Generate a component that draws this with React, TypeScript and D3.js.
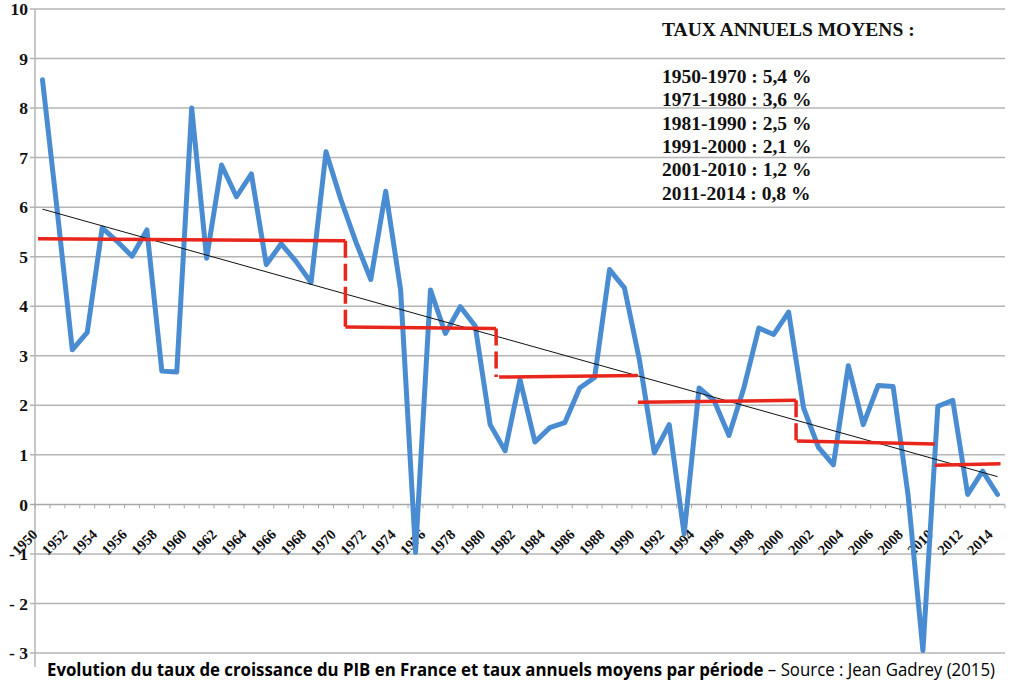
import * as d3 from "d3";

// ---------------------------------------------------------------------------
// Data
// ---------------------------------------------------------------------------

const YEARS = d3.range(1950, 2015);

const GROWTH = [
  8.57, 5.9, 3.12, 3.47, 5.58, 5.31, 5.01, 5.54, 2.69, 2.67,
  8.0, 4.97, 6.85, 6.21, 6.67, 4.84, 5.26, 4.9, 4.48, 7.12,
  6.15, 5.3, 4.54, 6.32, 4.33, -0.97, 4.33, 3.45, 3.99, 3.6,
  1.61, 1.08, 2.52, 1.26, 1.55, 1.65, 2.35, 2.56, 4.74, 4.37,
  2.92, 1.04, 1.61, -0.6, 2.35, 2.1, 1.39, 2.35, 3.56, 3.43,
  3.88, 1.95, 1.15, 0.8, 2.8, 1.61, 2.4, 2.38, 0.2, -2.95,
  1.98, 2.1, 0.2, 0.67, 0.2,
];

// period averages drawn by hand in the original (slightly tilted)
const PERIOD_FROM = [1949.7, 1970.3, 1980.6, 1989.9, 2000.55, 2009.8];
const PERIOD_TO = [1970.3, 1980.4, 1989.9, 2000.5, 2009.8, 2014.2];
const PERIOD_START_VAL = [5.36, 3.58, 2.57, 2.06, 1.28, 0.79];
const PERIOD_END_VAL = [5.32, 3.55, 2.6, 2.1, 1.22, 0.82];
// dashed drops between period i and i+1
const DROPS = [0, 1, 3];

// linear trend endpoints
const TREND_YEARS = [1950, 2014];
const TREND_VALS = [5.96, 0.56];

const Y_TICKS = [-3, -2, -1, 0, 1, 2, 3, 4, 5, 6, 7, 8, 9, 10];
const X_LABELS = YEARS.filter((y) => y % 2 === 0);

const LEGEND_TITLE = "TAUX ANNUELS MOYENS :";
const LEGEND_LINES = [
  "1950-1970 : 5,4 %",
  "1971-1980 : 3,6 %",
  "1981-1990 : 2,5 %",
  "1991-2000 : 2,1 %",
  "2001-2010 : 1,2 %",
  "2011-2014 : 0,8 %",
];

const CAPTION_BOLD =
  "Evolution du taux de croissance du PIB en France et taux annuels moyens par période";
const CAPTION_REG = " – Source : Jean Gadrey (2015)";

// ---------------------------------------------------------------------------
// Style
// ---------------------------------------------------------------------------

const W = 1017;
const H = 698;
const PLOT = { left: 35, right: 1005, top: 9, bottom: 653 };
const GRID = "#b5b5b5";
const BLUE = "#4a8cd2";
const RED = "#e8261c";
const SERIF = "'Liberation Serif','Times New Roman','DejaVu Serif',serif";
const SANS = "'Open Sans','Noto Sans',sans-serif";

export default function App() {
  const x = d3
    .scaleLinear()
    .domain([1949.5, 2014.5])
    .range([PLOT.left, PLOT.right]);
  const y = d3.scaleLinear().domain([-3, 10]).range([PLOT.bottom, PLOT.top]);

  const line = d3
    .line<number>()
    .x((_, i) => x(YEARS[i]))
    .y((d) => y(d));

  const y0 = y(0);
  const boundaries = d3.range(1949.5, 2015, 1);

  return (
    <svg
      width={W}
      height={H}
      style={{ position: "absolute", left: 0, top: 0, background: "white" }}
    >
      <rect width={W} height={H} fill="white" />

      {/* gridlines + y ticks */}
      {Y_TICKS.map((t) => (
        <g key={t}>
          {t !== 0 && (
            <line
              x1={PLOT.left - 5}
              x2={PLOT.right}
              y1={y(t)}
              y2={y(t)}
              stroke={GRID}
              strokeWidth={1.5}
            />
          )}
          <text
            x={28}
            y={y(t)}
            dy="0.35em"
            textAnchor="end"
            fontFamily={SERIF}
            fontWeight="bold"
            fontSize={17.5}
            fill="#111"
          >
            {t < 0 ? `- ${-t}` : t}
          </text>
        </g>
      ))}

      {/* y axis */}
      <line
        x1={PLOT.left}
        x2={PLOT.left}
        y1={PLOT.top}
        y2={PLOT.bottom + 14}
        stroke={GRID}
        strokeWidth={1.5}
      />

      {/* x axis at 0 */}
      <line
        x1={PLOT.left - 5}
        x2={PLOT.right}
        y1={y0}
        y2={y0}
        stroke="#a8a8a8"
        strokeWidth={1.5}
      />
      {boundaries.map((b) => (
        <line
          key={b}
          x1={x(b)}
          x2={x(b)}
          y1={y0}
          y2={y0 + 4}
          stroke="#a8a8a8"
          strokeWidth={1}
        />
      ))}

      {/* x labels, rotated 45deg */}
      {X_LABELS.map((yr) => (
        <g key={yr} transform={`translate(${x(yr) - 4},${y0 + 31})`}>
          <g transform="rotate(-45)">
            <text
              x={0}
              y={0}
              textAnchor="end"
              fontFamily={SERIF}
              fontWeight="bold"
              fontSize={14.5}
              fill="#111"
            >
              {yr}
            </text>
          </g>
        </g>
      ))}

      {/* growth series */}
      <path
        d={line(GROWTH) ?? ""}
        fill="none"
        stroke={BLUE}
        strokeWidth={5}
        strokeLinejoin="round"
        strokeLinecap="round"
      />

      {/* trend */}
      <line
        x1={x(TREND_YEARS[0])}
        y1={y(TREND_VALS[0])}
        x2={x(TREND_YEARS[1])}
        y2={y(TREND_VALS[1])}
        stroke="#111"
        strokeWidth={1}
      />

      {/* period averages */}
      {PERIOD_FROM.map((f, i) => (
        <line
          key={`p${i}`}
          x1={x(f)}
          x2={x(PERIOD_TO[i])}
          y1={y(PERIOD_START_VAL[i])}
          y2={y(PERIOD_END_VAL[i])}
          stroke={RED}
          strokeWidth={3.5}
        />
      ))}
      {DROPS.map((i) => (
        <line
          key={`d${i}`}
          x1={x(PERIOD_TO[i])}
          x2={x(PERIOD_TO[i])}
          y1={y(PERIOD_END_VAL[i])}
          y2={y(PERIOD_START_VAL[i + 1])}
          stroke={RED}
          strokeWidth={3.5}
          strokeDasharray="17,6"
        />
      ))}

      {/* legend */}
      <text
        x={662}
        y={36}
        fontFamily={SERIF}
        fontWeight="bold"
        fontSize={19.5}
        fill="#111"
      >
        {LEGEND_TITLE}
      </text>
      {LEGEND_LINES.map((l, i) => (
        <text
          key={l}
          x={662}
          y={83 + i * 23.3}
          fontFamily={SERIF}
          fontWeight="bold"
          fontSize={19.5}
          fill="#111"
        >
          {l}
        </text>
      ))}

      {/* caption */}
      <text
        x={47}
        y={676}
        fontFamily={SANS}
        fontSize={18}
        fill="#000"
        textLength={948}
        lengthAdjust="spacingAndGlyphs"
      >
        <tspan fontWeight="bold">{CAPTION_BOLD}</tspan>
        <tspan>{CAPTION_REG}</tspan>
      </text>
    </svg>
  );
}
